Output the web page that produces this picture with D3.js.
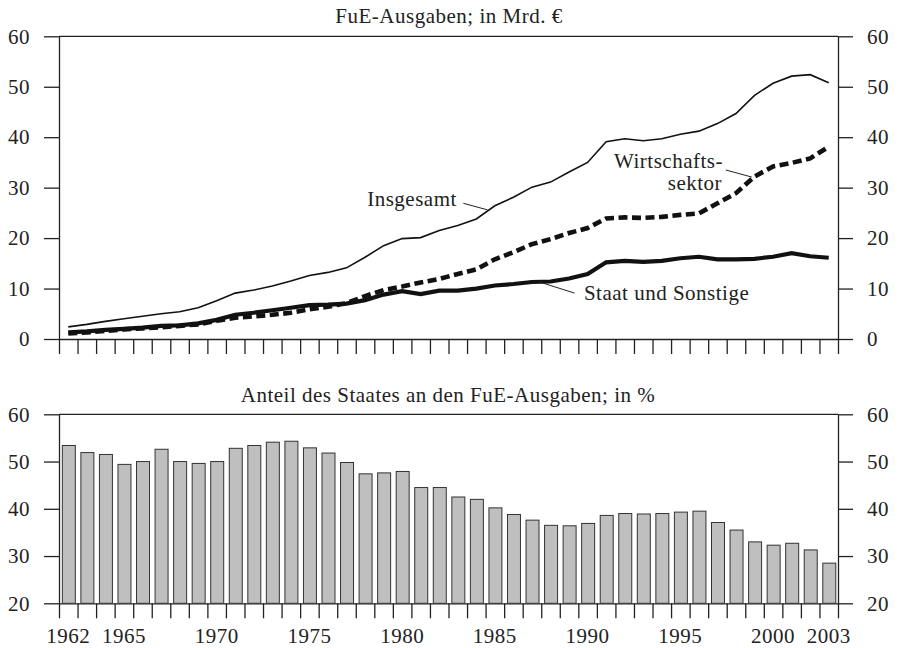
<!DOCTYPE html>
<html>
<head>
<meta charset="utf-8">
<script src="https://cdn.jsdelivr.net/npm/d3@7"></script>
<style>
  body { margin: 0; background: #fff; }
  svg text { font-family: "Liberation Serif", "Times New Roman", serif; fill: #222; }
  .lbl { letter-spacing: 0.5px; }
  .axis path, .axis line { stroke: #222; stroke-width: 1.3; }
</style>
</head>
<body>
<div id="chart"></div>
<script>
var width = 899, height = 648;

// years 1962..2003
var years = d3.range(1962, 2004);

// FuE-Ausgaben in Mrd. €
var insgesamt = [2.4, 2.9, 3.5, 4.0, 4.5, 5.0, 5.4, 6.2, 7.6, 9.1, 9.7, 10.5, 11.5, 12.6, 13.2, 14.1, 16.2, 18.5, 19.9, 20.1, 21.5,
                 22.5, 23.8, 26.4, 28.1, 30.1, 31.1, 33.1, 35.0, 39.1, 39.7, 39.3, 39.7, 40.6, 41.2, 42.7, 44.7, 48.3, 50.7, 52.1, 52.4, 50.8];
var wirtschaft = [1.1, 1.3, 1.6, 1.9, 2.1, 2.3, 2.6, 2.9, 3.6, 4.2, 4.5, 4.8, 5.2, 5.9, 6.4, 7.1, 8.5, 9.7, 10.4, 11.2, 11.9,
                  12.9, 13.8, 15.8, 17.2, 18.8, 19.8, 21.0, 22.0, 23.9, 24.1, 24.0, 24.2, 24.6, 24.9, 26.9, 28.9, 32.2, 34.2, 34.9, 35.8, 38.1];
var staat = [1.3, 1.5, 1.8, 2.0, 2.25, 2.6, 2.7, 3.1, 3.8, 4.8, 5.2, 5.7, 6.2, 6.7, 6.8, 7.0, 7.7, 8.8, 9.5, 8.9, 9.6,
             9.6, 10.0, 10.6, 10.9, 11.3, 11.4, 12.0, 12.9, 15.2, 15.5, 15.3, 15.5, 16.0, 16.3, 15.8, 15.8, 15.9, 16.3, 17.0, 16.4, 16.1];

// Anteil des Staates in %
var anteil = [53.4, 51.9, 51.5, 49.4, 50.0, 52.6, 50.0, 49.6, 50.0, 52.8, 53.4, 54.1, 54.3, 52.9, 51.8, 49.8, 47.4, 47.6, 47.9, 44.5, 44.5,
              42.5, 42.0, 40.2, 38.8, 37.6, 36.5, 36.4, 36.9, 38.6, 39.0, 38.9, 39.0, 39.3, 39.5, 37.1, 35.5, 33.0, 32.3, 32.7, 31.3, 28.5];

var topTicks = [0, 10, 20, 30, 40, 50, 60];
var bottomTicks = [20, 30, 40, 50, 60];
var yearLabels = [1962, 1965, 1970, 1975, 1980, 1985, 1990, 1995, 2000, 2003];

var left = 59, right = 838;

var svg = d3.select("#chart").append("svg")
    .attr("width", width)
    .attr("height", height);

// year boundaries: band i runs from x(1962+i) to x(1963+i)
var x = d3.scaleLinear().domain([1962, 2004]).range([left, right]);

var yTop = d3.scaleLinear().domain([0, 60]).range([339, 36.3]);
var yBot = d3.scaleLinear().domain([20, 60]).range([603.3, 414.3]);

function drawFrame(y, ticks) {
    var top = y.range()[1], bottom = y.range()[0];

    svg.append("line")
        .attr("x1", left).attr("x2", right)
        .attr("y1", top).attr("y2", top)
        .attr("stroke", "#222").attr("stroke-width", 1.3);

    svg.append("g")
        .attr("class", "axis")
        .attr("transform", "translate(0," + bottom + ")")
        .call(d3.axisBottom(x).tickValues(d3.range(1962, 2005)).tickFormat("").tickSize(15).tickSizeOuter(0));

    var la = svg.append("g")
        .attr("class", "axis")
        .attr("transform", "translate(" + left + ",0)")
        .call(d3.axisLeft(y).tickValues(ticks).tickSize(15).tickPadding(14).tickSizeOuter(0));
    la.selectAll("text").style("font-size", "21px").attr("class", "lbl");

    var ra = svg.append("g")
        .attr("class", "axis")
        .attr("transform", "translate(" + right + ",0)")
        .call(d3.axisRight(y).tickValues(ticks).tickSize(15).tickPadding(14).tickSizeOuter(0));
    ra.selectAll("text").style("font-size", "21px").attr("class", "lbl");
}

drawFrame(yTop, topTicks);
drawFrame(yBot, bottomTicks);

// titles
svg.append("text")
    .attr("class", "lbl")
    .attr("x", 449).attr("y", 23)
    .attr("text-anchor", "middle")
    .style("font-size", "21px")
    .text("FuE-Ausgaben; in Mrd. €");

svg.append("text")
    .attr("class", "lbl")
    .attr("x", 448).attr("y", 402)
    .attr("text-anchor", "middle")
    .style("font-size", "21px")
    .text("Anteil des Staates an den FuE-Ausgaben; in %");

// lines
function lineFor(values) {
    return d3.line()
        .x(function(d, i) { return x(years[i] + 0.5); })
        .y(function(d) { return yTop(d); })(values);
}

svg.append("path")
    .attr("d", lineFor(insgesamt))
    .attr("fill", "none")
    .attr("stroke", "#111")
    .attr("stroke-width", 1.6);

svg.append("path")
    .attr("d", lineFor(staat))
    .attr("fill", "none")
    .attr("stroke", "#111")
    .attr("stroke-width", 4.2);

svg.append("path")
    .attr("d", lineFor(wirtschaft))
    .attr("fill", "none")
    .attr("stroke", "#111")
    .attr("stroke-width", 4.6)
    .attr("stroke-dasharray", "9,4.5");

// annotations
function leader(a, b) {
    svg.append("line")
        .attr("x1", x(a[0])).attr("y1", yTop(a[1]))
        .attr("x2", x(b[0])).attr("y2", yTop(b[1]))
        .attr("stroke", "#222").attr("stroke-width", 1);
}

function note(t, xv, yv, anchor) {
    svg.append("text")
        .attr("class", "lbl")
        .attr("x", x(xv)).attr("y", yTop(yv))
        .attr("text-anchor", anchor)
        .style("font-size", "21px")
        .text(t);
}

note("Insgesamt", 1983.45, 26.3, "end");
leader([1983.8, 26.9], [1985.1, 25.6]);

note("Wirtschafts-", 1997.8, 33.8, "end");
note("sektor", 1997.75, 29.5, "end");
leader([1997.95, 33.5], [1999.35, 32.1]);

note("Staat und Sonstige", 1990.3, 7.7, "start");
leader([1987.9, 11.3], [1989.8, 9.1]);

// bars
var barW = x(1963) - x(1962);
svg.append("g")
    .selectAll("rect")
    .data(anteil)
    .enter().append("rect")
    .attr("x", function(d, i) { return x(years[i] + 0.18); })
    .attr("y", function(d) { return yBot(d); })
    .attr("width", barW * 0.7)
    .attr("height", function(d) { return yBot(20) - yBot(d); })
    .attr("fill", "#bfbfbf")
    .attr("stroke", "#333")
    .attr("stroke-width", 1);

// year labels
svg.append("g")
    .selectAll("text")
    .data(yearLabels)
    .enter().append("text")
    .attr("class", "lbl")
    .attr("x", function(d) { return x(d + 0.5); })
    .attr("y", 643)
    .attr("text-anchor", "middle")
    .style("font-size", "21px")
    .text(function(d) { return d; });
</script>
</body>
</html>
